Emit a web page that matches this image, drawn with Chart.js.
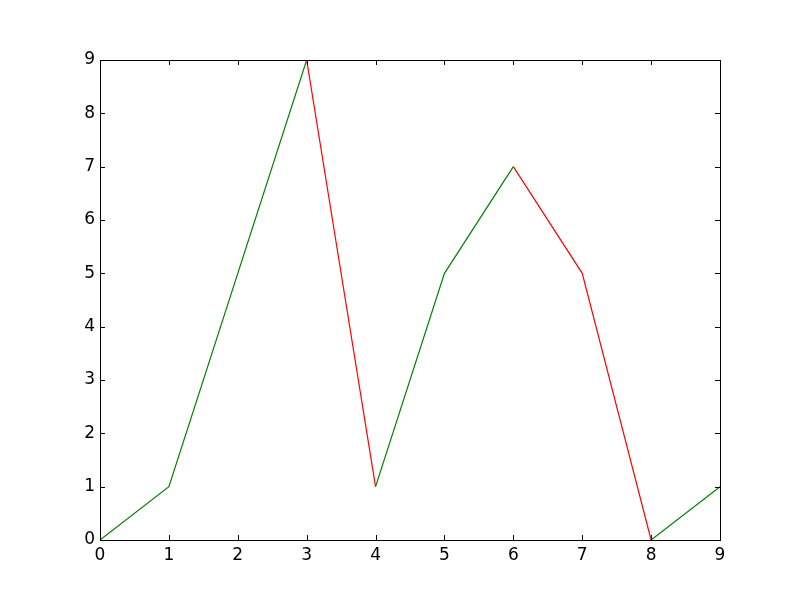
<!DOCTYPE html>
<html>
<head>
<meta charset="utf-8">
<script src="https://cdn.jsdelivr.net/npm/chart.js@4"></script>
<style>
  html, body { margin: 0; padding: 0; background: #fff; }
  #wrap { width: 800px; height: 600px; }
</style>
</head>
<body>
<div id="wrap"><canvas id="chart" width="800" height="600"></canvas></div>
<script>
// data
const xValues = [0, 1, 2, 3, 4, 5, 6, 7, 8, 9];
const yValues = [0, 1, 5, 9, 1, 5, 7, 5, 0, 1];
const xTicks = [0, 1, 2, 3, 4, 5, 6, 7, 8, 9];
const yTicks = [0, 1, 2, 3, 4, 5, 6, 7, 8, 9];

const upColor = '#008000';
const downColor = '#ff0000';
const tickFont = { family: 'DejaVu Sans', size: 17 };

// matplotlib-classic style frame with inward ticks on every side
const frameTicks = {
    id: 'frameTicks',
    afterDraw(chart) {
        const { ctx, chartArea: a, scales } = chart;
        const len = 5;
        ctx.save();
        ctx.strokeStyle = '#000';
        ctx.lineWidth = 1;
        ctx.beginPath();
        xTicks.forEach(v => {
            const px = Math.round(scales.x.getPixelForValue(v)) + 0.5;
            ctx.moveTo(px, a.bottom); ctx.lineTo(px, a.bottom - len);
            ctx.moveTo(px, a.top); ctx.lineTo(px, a.top + len);
        });
        yTicks.forEach(v => {
            const py = Math.round(scales.y.getPixelForValue(v)) + 0.5;
            ctx.moveTo(a.left, py); ctx.lineTo(a.left + len, py);
            ctx.moveTo(a.right, py); ctx.lineTo(a.right - len, py);
        });
        ctx.stroke();
        ctx.strokeRect(Math.round(a.left) + 0.5, Math.round(a.top) + 0.5,
            Math.round(a.right - a.left), Math.round(a.bottom - a.top));
        ctx.restore();
    }
};

new Chart(document.getElementById('chart'), {
    type: 'line',
    data: {
        datasets: [{
            data: xValues.map((x, i) => ({ x, y: yValues[i] })),
            borderWidth: 1.2,
            pointRadius: 0,
            tension: 0,
            borderColor: upColor,
            segment: {
                borderColor: c => c.p1.parsed.y < c.p0.parsed.y ? downColor : upColor
            }
        }]
    },
    options: {
        responsive: false,
        animation: false,
        layout: { padding: { left: 0, top: 60, right: 80, bottom: 0 } },
        plugins: { legend: { display: false }, tooltip: { enabled: false } },
        scales: {
            x: {
                type: 'linear',
                min: 0, max: 9,
                afterFit: s => { s.height = 60; },
                afterBuildTicks: s => { s.ticks = xTicks.map(v => ({ value: v })); },
                grid: { display: false, drawTicks: false },
                border: { display: false },
                ticks: { color: '#000', font: tickFont, padding: 5, maxRotation: 0 }
            },
            y: {
                type: 'linear',
                min: 0, max: 9,
                afterFit: s => { s.width = 100; },
                afterBuildTicks: s => { s.ticks = yTicks.map(v => ({ value: v })); },
                grid: { display: false, drawTicks: false },
                border: { display: false },
                ticks: { color: '#000', font: tickFont, padding: 5 }
            }
        }
    },
    plugins: [frameTicks]
});
</script>
</body>
</html>
